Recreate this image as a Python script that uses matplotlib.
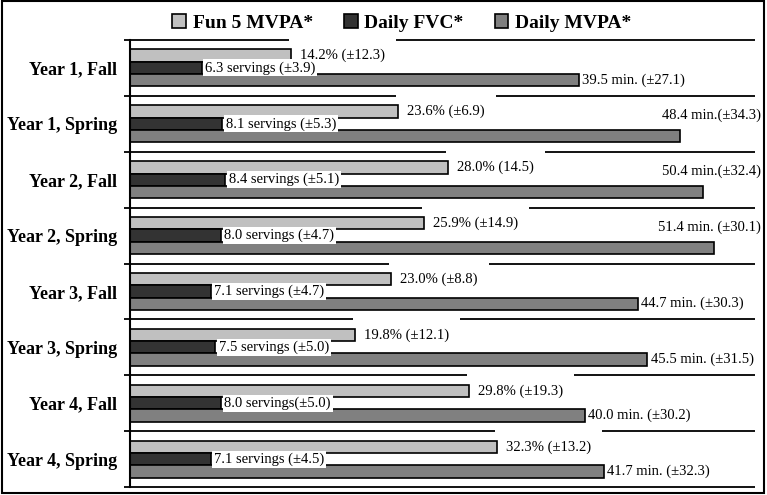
import numpy as np
import matplotlib.pyplot as plt
from matplotlib.patches import Patch, Rectangle

categories = ["Year 1, Fall", "Year 1, Spring", "Year 2, Fall", "Year 2, Spring",
              "Year 3, Fall", "Year 3, Spring", "Year 4, Fall", "Year 4, Spring"]
series_names = ["Fun 5 MVPA*", "Daily FVC*", "Daily MVPA*"]

fun5 = [14.2, 23.6, 28.0, 25.9, 23.0, 19.8, 29.8, 32.3]
fvc = [6.3, 8.1, 8.4, 8.0, 7.1, 7.5, 8.0, 7.1]
mvpa = [39.5, 48.4, 50.4, 51.4, 44.7, 45.5, 40.0, 41.7]

fun5_labels = ["14.2% (\u00b112.3)", "23.6% (\u00b16.9)", "28.0% (14.5)", "25.9% (\u00b114.9)",
               "23.0% (\u00b18.8)", "19.8% (\u00b112.1)", "29.8% (\u00b119.3)", "32.3% (\u00b113.2)"]
fvc_labels = ["6.3 servings (\u00b13.9)", "8.1 servings (\u00b15.3)", "8.4 servings (\u00b15.1)",
              "8.0 servings (\u00b14.7)", "7.1 servings (\u00b14.7)", "7.5 servings (\u00b15.0)",
              "8.0 servings(\u00b15.0)", "7.1 servings (\u00b14.5)"]
mvpa_labels = ["39.5 min. (\u00b127.1)", "48.4 min.(\u00b134.3)", "50.4 min.(\u00b132.4)",
               "51.4 min. (\u00b130.1)", "44.7 min. (\u00b130.3)", "45.5 min. (\u00b131.5)",
               "40.0 min. (\u00b130.2)", "41.7 min. (\u00b132.3)"]

colors = ["#c0c0c0", "#333333", "#808080"]

plt.rcParams['font.family'] = ['Liberation Serif', 'DejaVu Serif']

fig = plt.figure(figsize=(7.67, 4.95), dpi=100)
ax = fig.add_axes([130 / 767, 8 / 495, 625 / 767, 447 / 495])

y = np.arange(len(categories))
h = 0.22
ax.barh(y - h, fun5, height=h, color=colors[0], edgecolor='black', linewidth=1.2, zorder=3)
ax.barh(y, fvc, height=h, color=colors[1], edgecolor='black', linewidth=1.2, zorder=3)
ax.barh(y + h, mvpa, height=h, color=colors[2], edgecolor='black', linewidth=1.2, zorder=3)

xmax = 55
ax.set_xlim(0, xmax)
ax.set_ylim(len(categories) - 0.5, -0.5)

# category separators
bounds = np.arange(-0.5, len(categories), 1)
ax.hlines(bounds, 0, xmax, color='black', linewidth=1.3, zorder=1, clip_on=False)

# value labels (white boxes hide the separator lines, like the original)
for i in range(len(categories)):
    ax.annotate(fun5_labels[i], (fun5[i], i - h), xytext=(6.5, 0), textcoords='offset points',
                ha='left', va='center', fontsize=10.5, zorder=2,
                bbox=dict(boxstyle='square,pad=0.75', fc='white', ec='none'))
for i in range(len(categories)):
    ax.annotate(fvc_labels[i], (fvc[i], i), xytext=(2.5, 0), textcoords='offset points',
                ha='left', va='center', fontsize=10.5, zorder=4,
                bbox=dict(boxstyle='square,pad=0.12', fc='white', ec='none'))
for i in range(len(categories)):
    if mvpa[i] > 48:
        ax.text(55.5, i - 0.15, mvpa_labels[i], ha='right', va='center', fontsize=10.5,
                zorder=4, clip_on=False,
                bbox=dict(boxstyle='square,pad=0.1', fc='white', ec='none'))
    else:
        ax.annotate(mvpa_labels[i], (mvpa[i], i + h), xytext=(2.5, 0), textcoords='offset points',
                    ha='left', va='center', fontsize=10.5, zorder=4,
                    bbox=dict(boxstyle='square,pad=0.1', fc='white', ec='none'))

ax.set_xticks([])
ax.set_yticks(y, categories, fontweight='bold', fontsize=13)
ax.set_yticks(bounds, minor=True)
ax.tick_params(axis='y', which='major', length=0, pad=9.5)
ax.tick_params(axis='y', which='minor', length=4.5, width=1.3, direction='out')
for s in ['top', 'right', 'bottom']:
    ax.spines[s].set_visible(False)
ax.spines['left'].set_linewidth(1.5)
ax.spines['left'].set_zorder(5)

handles = [Patch(facecolor=c, edgecolor='black', linewidth=1.2) for c in colors]
fig.legend(handles, series_names, loc='center', bbox_to_anchor=(0.524, 0.953), ncol=3,
           frameon=False, prop=dict(weight='bold', size=14), handlelength=0.7,
           handleheight=0.7, handletextpad=0.35, columnspacing=1.6)

fig.patches.append(Rectangle((0.002, 0.004), 0.994, 0.993, transform=fig.transFigure,
                             fill=False, edgecolor='black', linewidth=1.5))

fig.savefig('out.png', dpi=100)
